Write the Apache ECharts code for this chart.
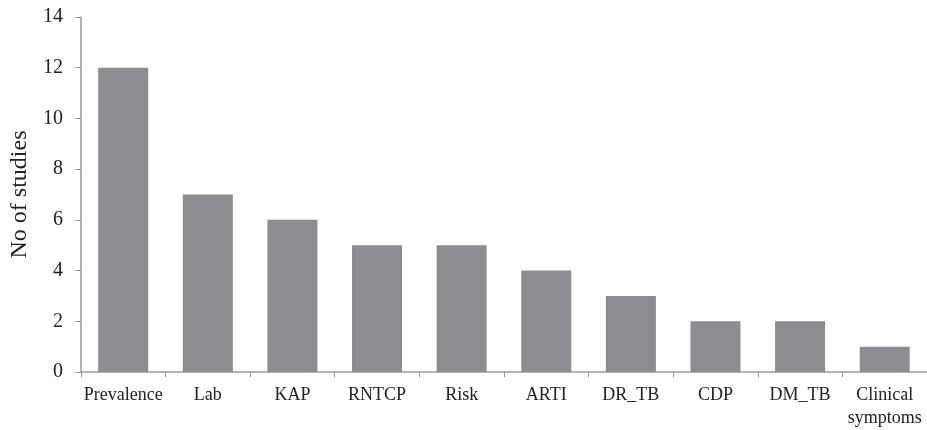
<!DOCTYPE html>
<html><head><meta charset="utf-8">
<script src="https://cdn.jsdelivr.net/npm/echarts@6/dist/echarts.min.js"></script>
<style>html,body{margin:0;padding:0;background:#fff}#c{width:927px;height:430px}</style>
</head><body><div id="c"></div>
<script>
const categories = ['Prevalence','Lab','KAP','RNTCP','Risk','ARTI','DR_TB','CDP','DM_TB','Clinical\nsymptoms'];
const studies = [12,7,6,5,5,4,3,2,2,1];
const yTicks = {min:0,max:14,interval:2};
const font = '"Liberation Serif","Times New Roman",serif';
const chart = echarts.init(document.getElementById('c'));
chart.setOption({
  animation:false,
  grid:{left:80,right:0,top:17,bottom:58},
  xAxis:{type:'category',data:categories,
    axisLine:{lineStyle:{color:'#9a9a9a',width:1.5}},
    axisTick:{show:true,length:5,lineStyle:{color:'#9a9a9a'}},
    axisLabel:{color:'#222',fontFamily:font,fontSize:18,margin:12,lineHeight:23,interval:0}},
  yAxis:{type:'value',min:yTicks.min,max:yTicks.max,interval:yTicks.interval,
    name:'No of studies',nameLocation:'middle',nameGap:46,
    nameTextStyle:{color:'#222',fontFamily:font,fontSize:24},
    splitLine:{show:false},
    axisLine:{show:true,lineStyle:{color:'#9a9a9a',width:1.5}},
    axisTick:{show:true,length:6,lineStyle:{color:'#9a9a9a'}},
    axisLabel:{color:'#222',fontFamily:font,fontSize:20,margin:18}},
  series:[{type:'bar',data:studies,barWidth:50,
    itemStyle:{color:'#8c8d90'}}]
});
</script></body></html>
